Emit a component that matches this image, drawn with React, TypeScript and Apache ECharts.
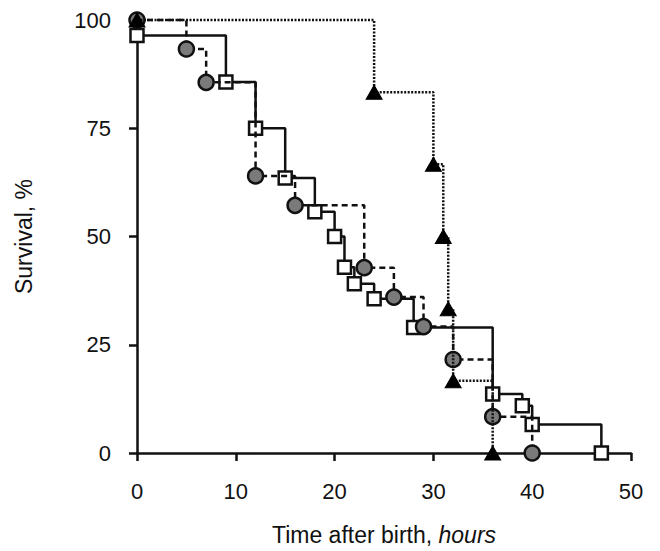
import React, { useEffect, useRef } from "react";
import * as echarts from "echarts";

const squaresHours = [0, 9, 12, 15, 18, 20, 21, 22, 24, 28, 36, 39, 40, 47];
const squaresSurvival = [96.4, 85.7, 75, 63.5, 55.7, 50, 42.9, 39.1, 35.6, 29.0, 13.6, 10.9, 6.6, 0];

const circlesHours = [0, 5, 7, 12, 16, 23, 26, 29, 32, 36, 40];
const circlesSurvival = [100, 93.3, 85.6, 64.0, 57.2, 42.8, 36.0, 29.2, 21.6, 8.4, 0];

const trianglesHours = [0, 24, 30, 31, 31.5, 32, 36];
const trianglesSurvival = [100, 83.3, 66.7, 50, 33.3, 16.7, 0];

const xTicks = [0, 10, 20, 30, 40, 50];
const yTicks = [0, 25, 50, 75, 100];

const pairs = (xs: number[], ys: number[]) => xs.map((x, i) => [x, ys[i]]);

export default function App() {
  const ref = useRef<HTMLDivElement>(null);
  useEffect(() => {
    if (!ref.current) return;
    const chart = echarts.init(ref.current, undefined, { renderer: "svg" });
    const font = "Liberation Sans, Arial, Helvetica, sans-serif";
    chart.setOption({
      animation: false,
      backgroundColor: "#ffffff",
      grid: { left: 137, right: 29, top: 20, bottom: 91, containLabel: false },
      xAxis: {
        type: "value",
        min: xTicks[0],
        max: xTicks[xTicks.length - 1],
        interval: 10,
        name: "{a|Time after birth, }{b|hours}",
        nameLocation: "middle",
        nameGap: 70,
        nameTextStyle: {
          rich: {
            a: { fontFamily: font, fontSize: 23, color: "#111" },
            b: { fontFamily: font, fontSize: 23, color: "#111", fontStyle: "italic" },
          },
        },
        axisLine: { show: true, onZero: false, lineStyle: { color: "#111", width: 2.5 } },
        axisTick: { show: true, inside: false, length: 8, lineStyle: { color: "#111", width: 2.5 } },
        axisLabel: { margin: 27, fontFamily: font, fontSize: 22, color: "#111" },
        splitLine: { show: false },
      },
      yAxis: {
        type: "value",
        min: yTicks[0],
        max: yTicks[yTicks.length - 1],
        interval: 25,
        name: "Survival, %",
        nameLocation: "middle",
        nameGap: 102,
        nameTextStyle: { fontFamily: font, fontSize: 23, color: "#111" },
        axisLine: { show: true, onZero: false, lineStyle: { color: "#111", width: 2.5 } },
        axisTick: { show: true, inside: false, length: 8, lineStyle: { color: "#111", width: 2.5 } },
        axisLabel: { margin: 26, fontFamily: font, fontSize: 22, color: "#111" },
        splitLine: { show: false },
      },
      series: [
        {
          type: "line",
          step: "end",
          data: pairs(squaresHours, squaresSurvival),
          symbol: "rect",
          symbolSize: 13,
          showAllSymbol: true,
          clip: false,
          z: 3,
          lineStyle: { color: "#111", width: 2.5, type: "solid" },
          itemStyle: { color: "#ffffff", borderColor: "#111", borderWidth: 2.5 },
        },
        {
          type: "line",
          step: "end",
          data: pairs(circlesHours, circlesSurvival),
          symbol: "circle",
          symbolSize: 15,
          showAllSymbol: true,
          clip: false,
          z: 4,
          lineStyle: { color: "#111", width: 2.5, type: [6, 4] },
          itemStyle: { color: "#7a7a7a", borderColor: "#111", borderWidth: 2.5 },
        },
        {
          type: "line",
          step: "end",
          data: pairs(trianglesHours, trianglesSurvival),
          symbol: "triangle",
          symbolSize: [16, 14],
          showAllSymbol: true,
          clip: false,
          z: 5,
          lineStyle: { color: "#111", width: 2.5, type: [2, 1.5] },
          itemStyle: { color: "#000000", borderColor: "#000", borderWidth: 1 },
        },
      ],
    });
    return () => chart.dispose();
  }, []);
  return <div ref={ref} style={{ width: 660, height: 551, position: "absolute", left: 0, top: 0 }} />;
}
